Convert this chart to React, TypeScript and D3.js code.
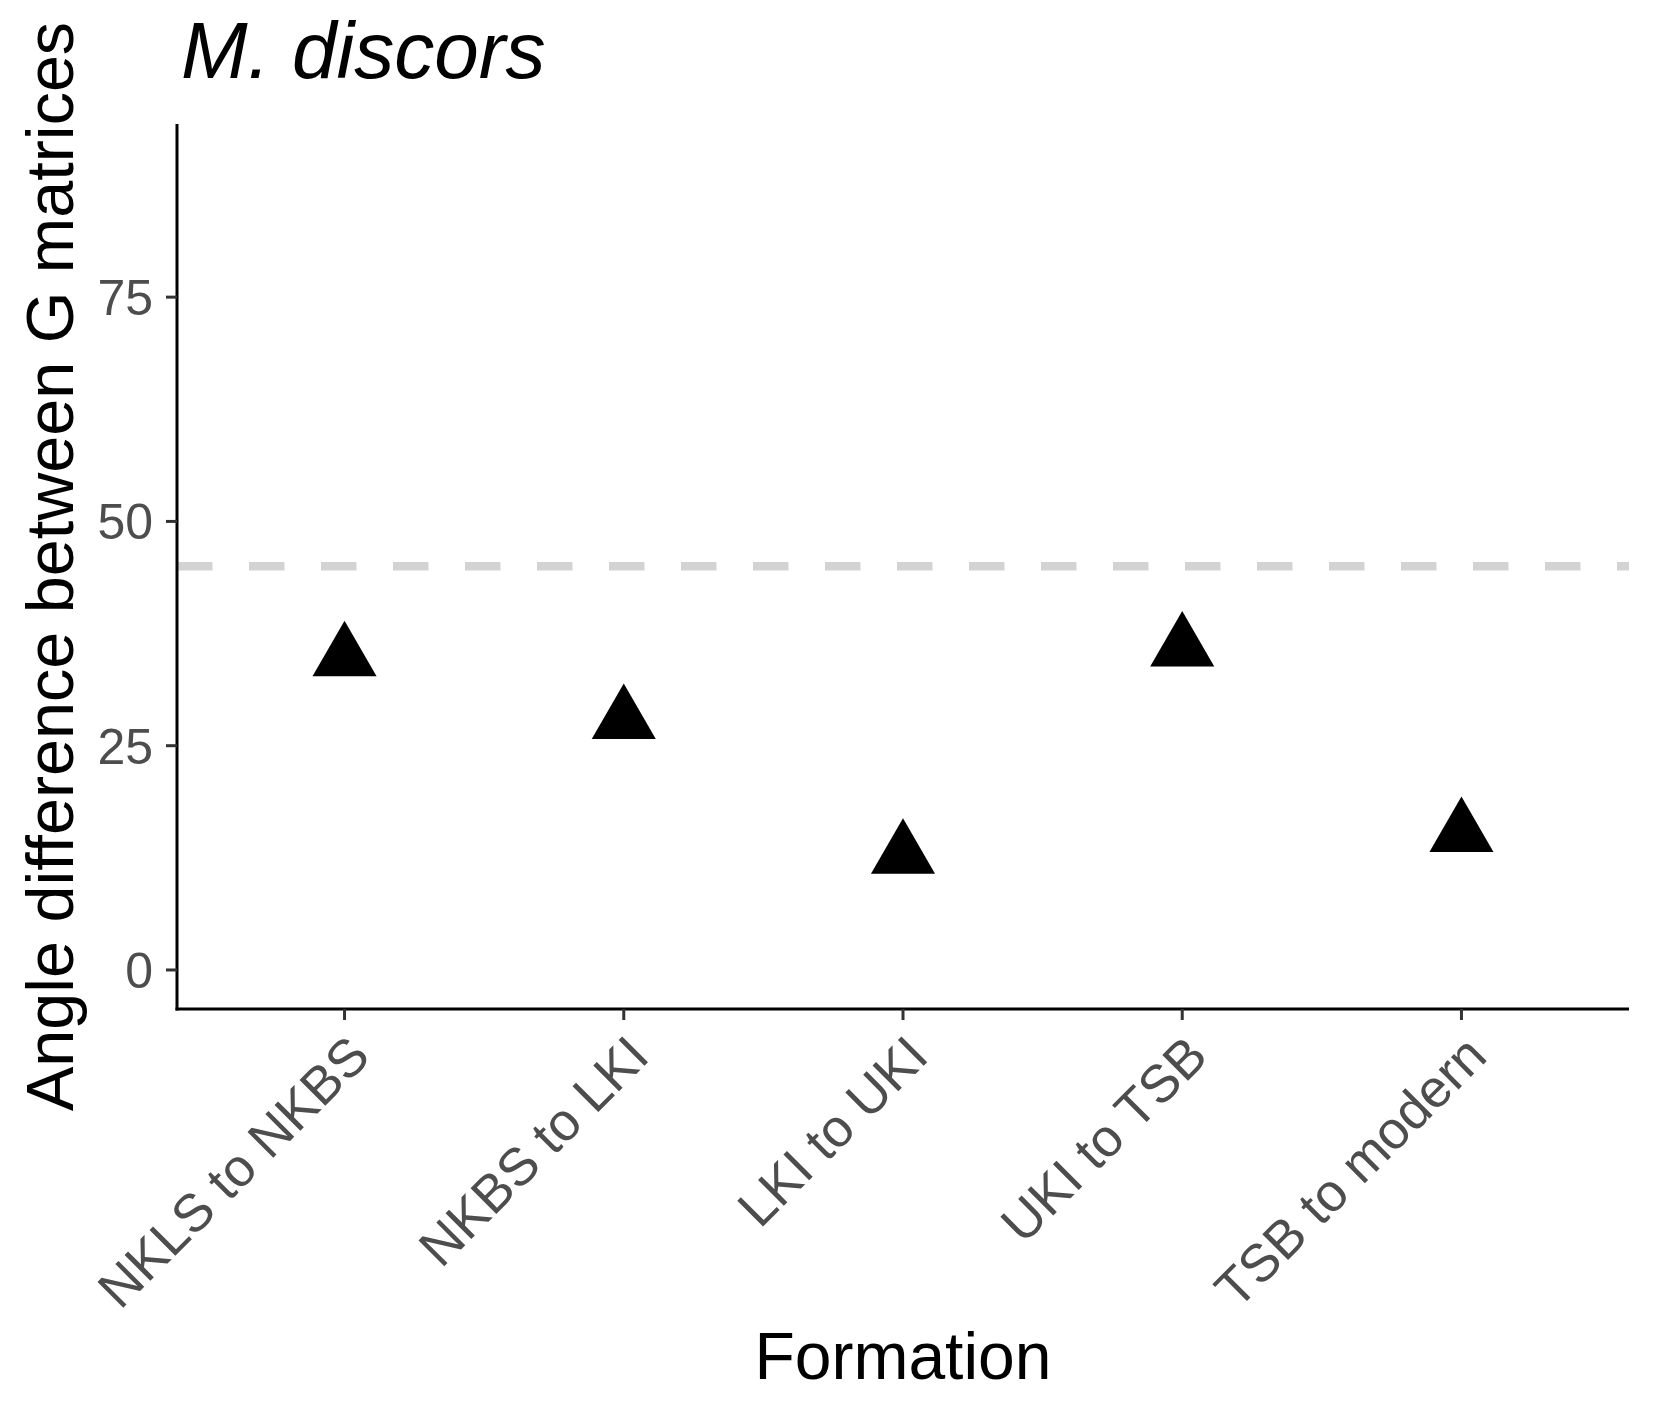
import React from "react";
import * as d3 from "d3";

const categories = ["NKLS to NKBS", "NKBS to LKI", "LKI to UKI", "UKI to TSB", "TSB to modern"];
const angleValues = [34.8, 27.8, 12.8, 35.9, 15.2];
const yTicks = [0, 25, 50, 75];
const refLine = 45;
const title = "M. discors";
const xTitle = "Formation";
const yTitle = "Angle difference between G matrices";

const W = 1653;
const H = 1417;
const panel = { left: 177, right: 1629, top: 124, bottom: 1009 };
const FONT = "'Liberation Sans', Arial, Helvetica, sans-serif";

export default function App() {
  const x = d3
    .scalePoint<string>()
    .domain(categories)
    .range([panel.left, panel.right])
    .padding(0.6);
  const y = d3.scaleLinear().domain([-4.35, 94.3]).range([panel.bottom, panel.top]);
  const tri = d3.symbol().type(d3.symbolTriangle).size(1778)() as string;
  const tickLen = 11;

  return (
    <svg
      width={W}
      height={H}
      viewBox={`0 0 ${W} ${H}`}
      style={{ position: "absolute", left: 0, top: 0, background: "#fff" }}
      fontFamily={FONT}
    >
      <rect x={0} y={0} width={W} height={H} fill="#fff" />
      {/* reference line */}
      <line
        x1={panel.left}
        x2={panel.right}
        y1={y(refLine)}
        y2={y(refLine)}
        stroke="#D3D3D3"
        strokeWidth={8.6}
        strokeDasharray="35.5 36.5"
      />
      {/* points */}
      {categories.map((c, i) => (
        <path key={c} d={tri} transform={`translate(${x(c)},${y(angleValues[i])})`} fill="#000" />
      ))}
      {/* axes lines */}
      <line x1={panel.left} x2={panel.left} y1={panel.top} y2={panel.bottom + 1.5} stroke="#000" strokeWidth={3} />
      <line x1={panel.left - 1.5} x2={panel.right} y1={panel.bottom} y2={panel.bottom} stroke="#000" strokeWidth={3} />
      {/* y ticks */}
      {yTicks.map((t) => (
        <g key={t}>
          <line x1={panel.left - tickLen} x2={panel.left} y1={y(t)} y2={y(t)} stroke="#333" strokeWidth={3} />
          <text x={153} y={y(t)} dy="0.358em" textAnchor="end" fontSize={50} fill="#4D4D4D">
            {t}
          </text>
        </g>
      ))}
      {/* x ticks */}
      {categories.map((c) => (
        <g key={c}>
          <line x1={x(c)} x2={x(c)} y1={panel.bottom} y2={panel.bottom + tickLen} stroke="#333" strokeWidth={3} />
          <g transform={`translate(${x(c)},${panel.bottom + tickLen + 11}) rotate(-45)`}>
            <text x={0} y={0} dy="0.74em" textAnchor="end" fontSize={53} fill="#4D4D4D">
              {c}
            </text>
          </g>
        </g>
      ))}
      {/* titles */}
      <text x={181} y={78} fontSize={80} fontStyle="italic" fill="#000">
        {title}
      </text>
      <text x={(panel.left + panel.right) / 2} y={1379} textAnchor="middle" fontSize={66} fill="#000">
        {xTitle}
      </text>
      <text
        transform={`translate(73,${(panel.top + panel.bottom) / 2}) rotate(-90)`}
        textAnchor="middle"
        fontSize={66.5}
        fill="#000"
      >
        {yTitle}
      </text>
    </svg>
  );
}
